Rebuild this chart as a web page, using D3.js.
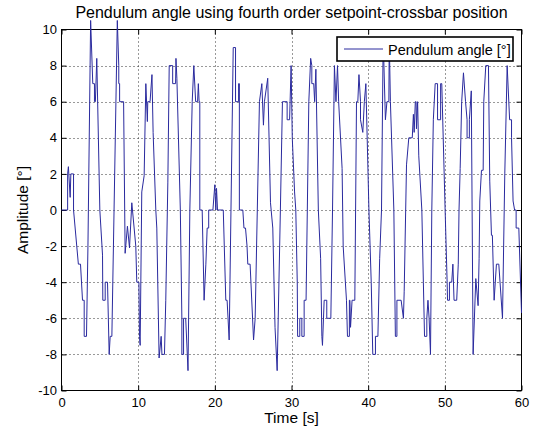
<!DOCTYPE html>
<html>
<head>
<meta charset="utf-8">
<script src="https://cdn.jsdelivr.net/npm/d3@7"></script>
<style>
  body { margin: 0; background: #fff; }
  svg { display: block; }
  text { font-family: "Liberation Sans", Arial, Helvetica, sans-serif; fill: #000; }
</style>
</head>
<body>
<svg id="chart" width="534" height="430"></svg>
<script>
// Sampled pendulum angle: time stamps [s] and angle [deg]
const timeS = [
  0, 0.8, 0.8, 0.9, 1.13, 1.22, 1.57, 1.57, 2.2, 2.48, 2.74, 2.96, 2.96, 3.26, 3.45, 3.8,
  4.08, 4.3, 4.3, 4.42, 4.6, 5.0, 5.35, 5.39, 5.7, 5.7, 6.0, 6.22, 6.35, 6.57, 7.28, 7.47,
  7.47, 7.58, 7.58, 8.1, 8.3, 8.6, 8.87, 9.17, 9.69, 9.82, 10.1, 10.17, 10.26, 10.47, 10.78,
  11.0, 11.2, 11.25, 11.55, 11.8, 11.95, 12.3, 12.43, 12.73, 13.0, 13.1, 13.43, 13.6, 13.87,
  14.05, 14.5, 14.5, 14.88, 14.93, 15.05, 15.5, 15.7, 15.7, 15.92, 15.92, 16.2, 16.5, 16.74,
  17.05, 17.26, 17.5, 17.75, 17.85, 17.95, 18.04, 18.04, 18.35, 18.6, 18.83, 19.0, 19.2,
  19.2, 19.75, 20.0, 20.13, 20.22, 20.35, 21.1, 21.43, 21.6, 21.87, 22.4, 22.7, 22.7, 23.1,
  23.1, 23.2, 23.2, 23.65, 23.8, 24.0, 24.2, 24.3, 24.6, 25.05, 25.26, 25.82, 26.13, 26.34,
  26.47, 26.9, 27.26, 27.56, 27.85, 28.13, 28.55, 28.82, 29.43, 29.43, 29.75, 29.95, 30.1,
  30.4, 30.56, 30.75, 30.8, 31.08, 31.08, 31.35, 31.35, 31.65, 31.65, 31.9, 32.26, 32.5,
  32.65, 32.65, 32.9, 33.02, 33.18, 33.5, 33.8, 33.96, 34.04, 34.26, 34.6, 34.6, 35.13,
  35.35, 35.6, 35.8, 36.0, 36.15, 36.6, 36.74, 37.17, 37.3, 37.55, 37.55, 37.62, 37.7, 37.9,
  38.26, 38.48, 38.65, 38.8, 39.0, 39.0, 39.3, 39.5, 39.7, 40.1, 40.4, 40.6, 40.95, 40.95,
  41.27, 41.5, 41.74, 41.96, 42.25, 42.45, 42.7, 42.75, 42.9, 43.35, 43.55, 43.75, 43.75,
  44.3, 44.6, 44.7, 45.0, 45.3, 45.75, 45.9, 46.0, 46.15, 46.25, 46.3, 46.45, 46.6, 47.0,
  47.2, 47.35, 47.65, 47.65, 47.8, 47.95, 48.13, 48.3, 48.5, 48.74, 49.05, 49.05, 49.45,
  49.45, 49.6, 50.04, 50.3, 50.35, 50.6, 50.6, 50.9, 51.05, 51.2, 51.55, 51.75, 51.85, 52.0,
  52.2, 52.43, 52.7, 52.9, 52.9, 53.2, 53.2, 53.45, 53.69, 54.04, 54.34, 54.47, 54.56, 54.78,
  55.0, 55.08, 55.34, 55.69, 55.86, 56.08, 56.2, 56.43, 56.73, 57.04, 57.52, 57.82, 58.13,
  58.45, 58.7, 58.7, 58.9, 59.1, 59.3, 59.3, 59.65, 60
];
const angleDeg = [
  0, 0, 2, 2.4, 0.7, 2, 2, 0, -3, -3, -5, -5, -7, -7, -2, 10.5,
  7, 7, 6, 6, 8.4, 0, -2.5, -5, -5, -4, -4, -8, -7, -7, 10.5, 8,
  7, 7, 6, 6, -2.4, -0.9, -2.1, 0.4, -2, -4, -4, -7, -7.5, 1, 1.9,
  7, 4.9, 6, 6, 7.5, 4.3, 0, -1, -8.2, -7, -8, -8, -5, 1.5,
  8, 8, 7, 7, 8.4, 7.3, 0, -6, -8, -8, -6, -6, -8.9, 0,
  6, 8, 6, 6, 7, 6, 6, 0, 0, -5, -3, -1, -1,
  0, 0, 1.4, 0, 1.2, 0, 0, -5, -5, -7.2, 9, 9, 6, 6,
  7, 7, 0, 0, -1, -1, -2, -3, -3, -7.2, -6, 6, 7, 4.7,
  6, 7.3, 0.4, -1, -6.5, -8.9, 0, 6, 6, 5, 5, 8, 4,
  1, 0, -4, -7, -7, -6, -6, -7, -7, -5, -5, 6, 8.4,
  8, 7, 7, 6, 7.8, 0, -2.7, -7, -7.5, -5, -5, -6, -6,
  0, 8, 6, 8, 6, 2.3, -2, -5, -7, -7, -5, -5, -6.5, -5,
  -5, 6, 6, 7.5, 6, 5, 4.3, 6, 7, 0, -4, -8, -8, -7,
  -7, -2.7, 0, 9.5, 5, 6, 6, 9.5, 6, 0, -7, -7, -5,
  -5, -6, -4.5, 2.5, 4, 4, 5.3, 4.3, 6, 6, 4.5, 6, 3, 0,
  -4, -7, -7, -6, -5, -6, -8, 0, 5, 7, 7, 5, 5,
  7, 7, 0, -4, -5, -5, -4, -4, -3, -5, -5, -3, 0, 2.3,
  6, 7.6, 6, 5, 4, 4, 5, 6.6, -8, -3.8, -5.3, -2.7, 0.5, 2.2,
  2.2, 6, 8, 8, 1.6, -1.4, -1.4, -5, -3, -3, -6, 2, 8,
  5, 5, 4, 0.5, 0, 0, -1, -1, -5.7
];

const xTicks = [0, 10, 20, 30, 40, 50, 60];
const yTicks = [-10, -8, -6, -4, -2, 0, 2, 4, 6, 8, 10];
const titleText = "Pendulum angle using fourth order setpoint-crossbar position";
const xLabel = "Time [s]";
const yLabel = "Amplitude [°]";
const seriesName = "Pendulum angle [°]";

const svg = d3.select("#chart");
const plot = { left: 61.5, right: 521.5, top: 29.5, bottom: 390.5 };

const x = d3.scaleLinear().domain([0, 60]).range([plot.left, plot.right]);
const y = d3.scaleLinear().domain([-10, 10]).range([plot.bottom, plot.top]);

const lineColor = "#2a2a9e";
const tickLen = 5;

// dotted grid at every interior tick
const grid = svg.append("g").attr("stroke", "#333").attr("stroke-width", 1)
  .attr("stroke-dasharray", "1,3");
grid.selectAll("line.gx").data(xTicks.slice(1, -1)).join("line")
  .attr("x1", d => Math.round(x(d)) + 0.5).attr("x2", d => Math.round(x(d)) + 0.5)
  .attr("y1", plot.top).attr("y2", plot.bottom);
grid.selectAll("line.gy").data(yTicks.slice(1, -1)).join("line")
  .attr("y1", d => Math.round(y(d)) + 0.5).attr("y2", d => Math.round(y(d)) + 0.5)
  .attr("x1", plot.left).attr("x2", plot.right);

// axes with inward ticks on all four sides
function styleAxis(g) {
  g.select(".domain").remove();
  g.selectAll(".tick line").attr("stroke", "#000");
  g.selectAll(".tick text").attr("font-size", 13).attr("fill", "#000");
}
svg.append("g").attr("transform", `translate(0,${plot.bottom})`)
  .call(d3.axisBottom(x).tickValues(xTicks).tickSizeInner(-tickLen).tickSizeOuter(0).tickPadding(7))
  .call(styleAxis);
svg.append("g").attr("transform", `translate(0,${plot.top})`)
  .call(d3.axisTop(x).tickValues(xTicks).tickSizeInner(-tickLen).tickSizeOuter(0).tickFormat(""))
  .call(styleAxis);
svg.append("g").attr("transform", `translate(${plot.left},0)`)
  .call(d3.axisLeft(y).tickValues(yTicks).tickSizeInner(-tickLen).tickSizeOuter(0).tickPadding(4.5)
    .tickFormat(d => d < 0 ? "-" + Math.abs(d) : String(d)))
  .call(styleAxis);
svg.append("g").attr("transform", `translate(${plot.right},0)`)
  .call(d3.axisRight(y).tickValues(yTicks).tickSizeInner(-tickLen).tickSizeOuter(0).tickFormat(""))
  .call(styleAxis);

// frame
svg.append("rect")
  .attr("x", plot.left).attr("y", plot.top)
  .attr("width", plot.right - plot.left).attr("height", plot.bottom - plot.top)
  .attr("fill", "none").attr("stroke", "#000").attr("stroke-width", 1);

// signal
const points = timeS.map((t, i) => [t, angleDeg[i]]);
svg.append("path")
  .datum(points)
  .attr("fill", "none")
  .attr("stroke", lineColor)
  .attr("stroke-width", 1)
  .attr("stroke-linejoin", "miter")
  .attr("d", d3.line().x(d => x(d[0])).y(d => y(d[1])));

// legend
const legend = svg.append("g").attr("transform", "translate(337,37)");
legend.append("rect").attr("width", 176).attr("height", 24)
  .attr("fill", "#fff").attr("stroke", "#000").attr("stroke-width", 1.6);
legend.append("line").attr("x1", 7).attr("x2", 46).attr("y1", 12).attr("y2", 12)
  .attr("stroke", lineColor).attr("stroke-width", 1);
legend.append("text").attr("x", 51).attr("y", 17.5).attr("font-size", 14.5).text(seriesName);

// title and axis labels
svg.append("text").attr("x", (plot.left + plot.right) / 2).attr("y", 18)
  .attr("text-anchor", "middle").attr("font-size", 16).text(titleText);
svg.append("text").attr("x", (plot.left + plot.right) / 2).attr("y", 423)
  .attr("text-anchor", "middle").attr("font-size", 15.5).text(xLabel);
svg.append("text").attr("transform", `translate(28,${(plot.top + plot.bottom) / 2}) rotate(-90)`)
  .attr("text-anchor", "middle").attr("font-size", 15.5).text(yLabel);
</script>
</body>
</html>
